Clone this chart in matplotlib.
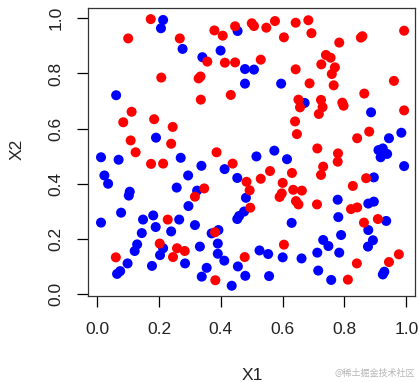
import matplotlib
matplotlib.use("Agg")
import matplotlib.pyplot as plt

plt.rcParams['font.family'] = ['Liberation Sans', 'DejaVu Sans']

# class 1 (red)
red_x1 = [0.173, 0.100, 0.267, 0.379, 0.406, 0.446, 0.500, 0.507, 0.356, 0.413,
          0.446, 0.207, 0.328, 0.334, 0.335, 0.432, 0.111, 0.084, 0.184, 0.244,
          0.108, 0.239, 0.124, 0.174, 0.213, 0.386, 0.438, 0.483, 0.493, 0.346,
          0.316, 0.495, 0.228, 0.381, 0.202, 0.258, 0.283, 0.245, 0.477, 0.060,
          0.382,
          0.547, 0.575, 0.642, 0.683, 0.693, 0.604, 0.783, 0.853, 0.858, 0.993,
          0.529, 0.740, 0.755, 0.725, 0.769, 0.759, 0.642, 0.687, 0.765, 0.960,
          0.864, 0.651, 0.656, 0.724, 0.729, 0.717, 0.793, 0.797, 0.993, 0.640,
          0.646, 0.880, 0.841, 0.712, 0.779,
          0.778, 0.731, 0.724, 0.559, 0.630, 0.529, 0.600, 0.870, 0.827, 0.634,
          0.662, 0.597, 0.590, 0.643, 0.651, 0.711, 0.821, 0.841, 0.863, 0.908,
          0.604, 0.976, 0.840, 0.944, 0.811]
red_x2 = [0.997, 0.927, 0.927, 0.956, 0.937, 0.971, 0.982, 0.972, 0.843, 0.839,
          0.840, 0.785, 0.782, 0.789, 0.705, 0.722, 0.661, 0.623, 0.634, 0.606,
          0.557, 0.545, 0.514, 0.472, 0.473, 0.514, 0.473, 0.407, 0.376, 0.383,
          0.353, 0.313, 0.270, 0.224, 0.183, 0.166, 0.156, 0.134, 0.134, 0.133,
          0.050,
          0.966, 0.990, 0.984, 0.993, 0.946, 0.931, 0.912, 0.930, 0.935, 0.955,
          0.850, 0.867, 0.857, 0.833, 0.822, 0.798, 0.815, 0.764, 0.757, 0.773,
          0.727, 0.705, 0.677, 0.704, 0.678, 0.653, 0.694, 0.683, 0.666, 0.626,
          0.580, 0.589, 0.565, 0.528, 0.510,
          0.480, 0.462, 0.432, 0.446, 0.439, 0.418, 0.403, 0.420, 0.392, 0.378,
          0.375, 0.365, 0.352, 0.337, 0.325, 0.325, 0.308, 0.314, 0.259, 0.272,
          0.179, 0.144, 0.111, 0.116, 0.052]

# class 2 (blue)
blue_x1 = [0.213, 0.206, 0.276, 0.454, 0.399, 0.340, 0.478, 0.507, 0.478, 0.061,
           0.190, 0.012, 0.069, 0.270, 0.337, 0.412, 0.515, 0.023, 0.035, 0.294,
           0.453, 0.257, 0.323, 0.105, 0.102, 0.481, 0.295, 0.475, 0.459, 0.453,
           0.077, 0.181, 0.148, 0.265, 0.012, 0.189, 0.316, 0.239, 0.144, 0.392,
           0.370, 0.390, 0.213, 0.203, 0.129, 0.121, 0.332, 0.390, 0.411, 0.098,
           0.284, 0.177, 0.354, 0.455, 0.074, 0.064, 0.338, 0.479, 0.435,
           0.595, 0.671, 0.886, 0.984, 0.944, 0.573, 0.910, 0.924, 0.917, 0.938,
           0.614, 0.993, 0.895, 0.778, 0.877, 0.895, 0.780, 0.935, 0.877, 0.629,
           0.789, 0.731, 0.748, 0.892, 0.876, 0.525, 0.553, 0.600, 0.661, 0.712,
           0.783, 0.715, 0.929, 0.924, 0.556, 0.757]
blue_x2 = [0.994, 0.964, 0.889, 0.954, 0.883, 0.859, 0.816, 0.814, 0.763, 0.721,
           0.567, 0.496, 0.487, 0.494, 0.465, 0.453, 0.499, 0.430, 0.400, 0.430,
           0.421, 0.386, 0.375, 0.371, 0.357, 0.349, 0.319, 0.299, 0.283, 0.272,
           0.295, 0.285, 0.270, 0.270, 0.259, 0.243, 0.250, 0.227, 0.221, 0.232,
           0.220, 0.183, 0.166, 0.141, 0.180, 0.156, 0.172, 0.146, 0.121, 0.111,
           0.111, 0.102, 0.095, 0.100, 0.083, 0.073, 0.063, 0.066, 0.030,
           0.763, 0.693, 0.659, 0.585, 0.565, 0.520, 0.522, 0.528, 0.496, 0.508,
           0.489, 0.464, 0.423, 0.342, 0.328, 0.335, 0.279, 0.265, 0.232, 0.258,
           0.214, 0.196, 0.174, 0.195, 0.172, 0.158, 0.145, 0.133, 0.129, 0.150,
           0.150, 0.085, 0.081, 0.071, 0.065, 0.051]

ticks = [0.0, 0.2, 0.4, 0.6, 0.8, 1.0]
tick_labels = ['0.0', '0.2', '0.4', '0.6', '0.8', '1.0']

W, H = 419, 382
fig = plt.figure(figsize=(W / 100, H / 100), dpi=100)
ax = fig.add_axes([88.3 / W, (H - 295.5) / H, (415 - 88.3) / W, (295.5 - 8.3) / H])

ax.scatter(blue_x1, blue_x2, s=52, c='#0000ff', edgecolors='none', zorder=3)
ax.scatter(red_x1, red_x2, s=52, c='#ff0000', edgecolors='none', zorder=3)

ax.set_xlim(-0.0291, 1.0282)
ax.set_ylim(-0.0054, 1.0363)

ax.set_xticks(ticks)
ax.set_xticklabels(tick_labels)
ax.set_yticks(ticks)
ax.set_yticklabels(tick_labels, rotation=90, va='center')
ax.tick_params(direction='out', length=7.7, width=0.9, color='black',
               labelsize=12.5, labelcolor='#222222')
ax.tick_params(axis='x', pad=11.5)
ax.tick_params(axis='y', pad=10)
for sp in ax.spines.values():
    sp.set_color('#333333')
    sp.set_linewidth(0.9)

fig.text(252 / W, 1 - 376 / H, 'X1', ha='center', va='center', fontsize=12.5, color='#222222')
fig.text(16.8 / W, 1 - 149 / H, 'X2', ha='center', va='center', rotation=90,
         fontsize=12.5, color='#222222')

# watermark
fig.text(415 / W, 1 - 373 / H, '@稀土掘金技术社区', ha='right', va='center', fontsize=6.5,
         color='#b5b5b5', family=['Noto Sans CJK SC', 'DejaVu Sans'])

fig.savefig('out.png', dpi=100)
